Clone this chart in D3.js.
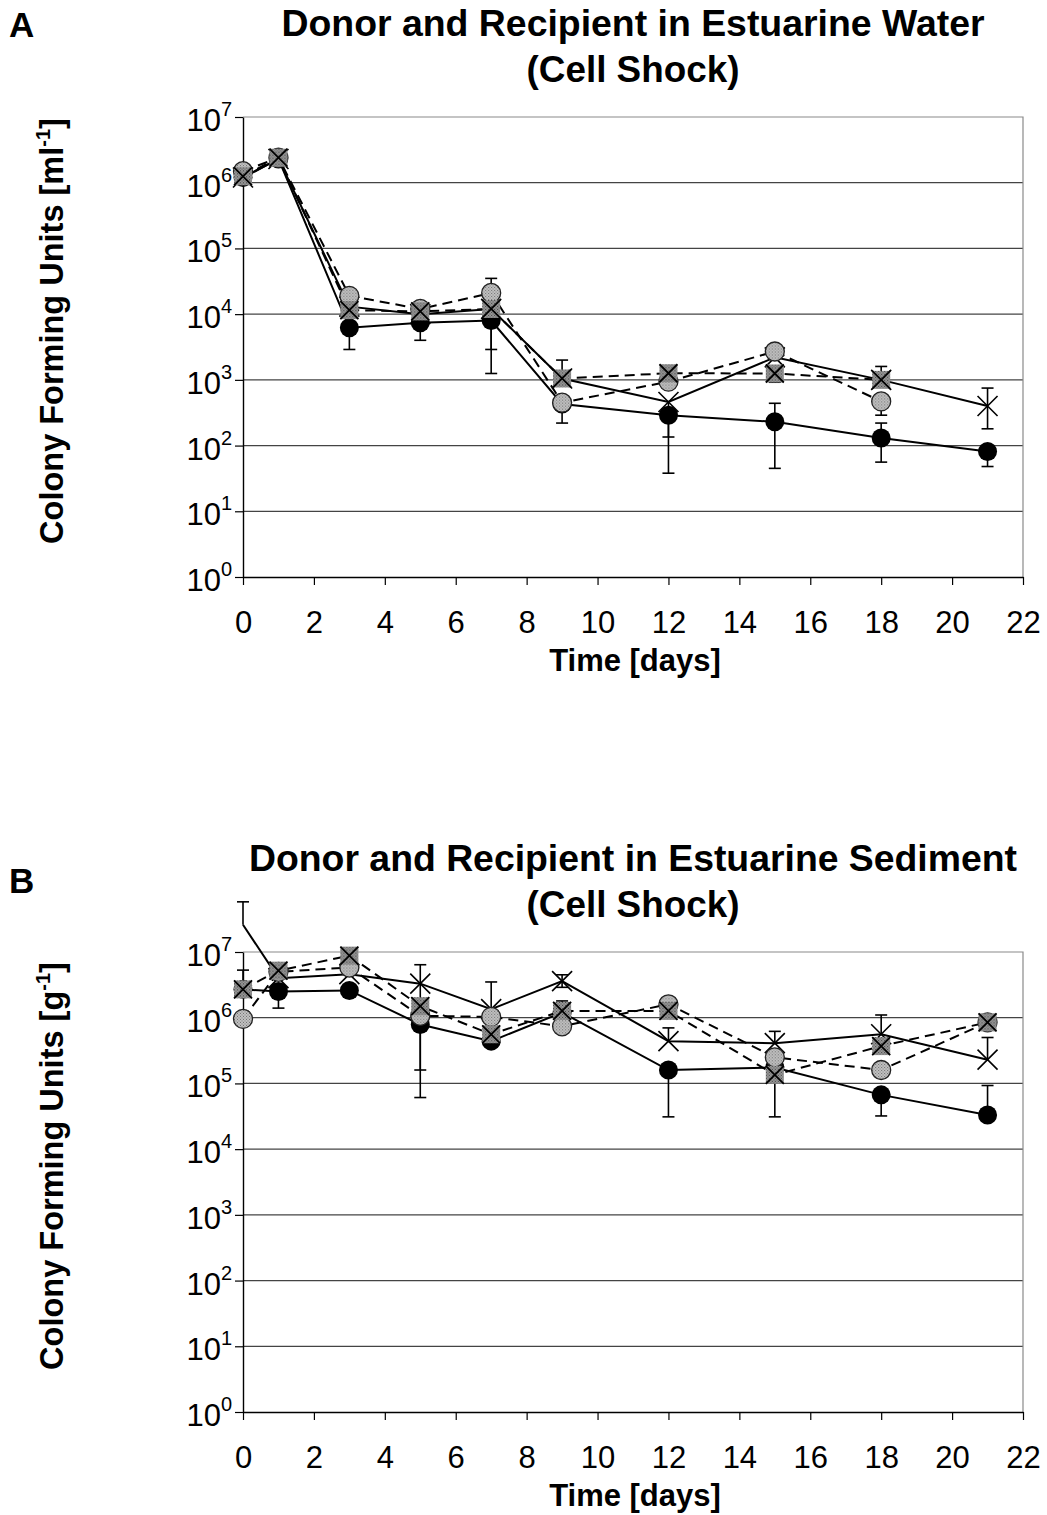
<!DOCTYPE html>
<html>
<head>
<meta charset="utf-8">
<script src="https://cdn.jsdelivr.net/npm/d3@7"></script>
<style>
  body { margin: 0; background: #fff; }
  text { font-family: "Liberation Sans", Arial, sans-serif; fill: #000; }
</style>
</head>
<body>
<script>
'use strict';

// sampling days
var days = [0, 1, 3, 5, 7, 9, 12, 15, 18, 21];
var xTicks = [0, 2, 4, 6, 8, 10, 12, 14, 16, 18, 20, 22];
var decades = [0, 1, 2, 3, 4, 5, 6, 7];

// A: estuarine water (CFU per ml)
var waterFilled   = [1.2e6, 2.3e6, 6.2e3, 7.4e3, 8.0e3, 4.3e2, 2.9e2, 2.3e2, 1.3e2, 81];
var waterFilledHi = [null, null, null, null, null, null, null, 4.4e2, 2.2e2, null];
var waterFilledLo = [null, null, 2.9e3, 4.0e3, 1.25e3, null, 38, 45, 56, 48];

var waterCross    = [1.2e6, 2.3e6, 1.3e4, 1.0e4, 1.2e4, 1.05e3, 4.6e2, 2.2e3, 1.0e3, 4.0e2];
var waterCrossHi  = [null, null, null, null, null, null, null, null, null, 7.5e2];
var waterCrossLo  = [null, null, null, null, 2.9e3, null, 1.35e2, null, null, 1.8e2];

var waterCircle   = [1.5e6, 2.4e6, 1.9e4, 1.2e4, 2.1e4, 4.5e2, 9.4e2, 2.7e3, 4.7e2, null];
var waterCircleHi = [null, null, null, null, 3.5e4, null, null, null, null, null];
var waterCircleLo = [null, null, null, null, null, 2.2e2, null, null, 2.9e2, null];

var waterSquare   = [1.25e6, 2.4e6, 1.15e4, 1.1e4, 1.2e4, 1.05e3, 1.26e3, 1.25e3, 1.0e3, null];
var waterSquareHi = [null, null, null, null, null, 2.0e3, null, null, 1.6e3, null];
var waterSquareLo = [null, null, null, null, null, null, null, 9.2e2, null, null];

// B: estuarine sediment (CFU per g)
var sedFilled     = [2.7e6, 2.5e6, 2.6e6, 7.9e5, 4.4e5, 1.2e6, 1.6e5, 1.75e5, 6.7e4, 3.3e4];
var sedFilledHi   = [5.3e6, null, null, null, null, 1.8e6, null, null, null, 9.3e4];
var sedFilledLo   = [null, 1.4e6, null, 6.1e4, null, null, 3.1e4, 3.1e4, 3.2e4, null];

var sedCross      = [2.6e7, 4.0e6, 4.6e6, 3.3e6, 1.35e6, 3.6e6, 4.4e5, 4.1e5, 5.6e5, 2.3e5];
var sedCrossHi    = [5.8e7, null, null, 6.4e6, 3.5e6, 4.5e6, 7.0e5, 6.2e5, 1.1e6, 5.0e5];
var sedCrossLo    = [null, null, null, 1.6e5, null, 2.9e6, null, null, null, null];

var sedCircle     = [9.6e5, 5.0e6, 5.8e6, 1.07e6, 1.03e6, 7.4e5, 1.6e6, 2.5e5, 1.6e5, 8.5e5];
var sedSquare     = [2.7e6, 5.2e6, 8.8e6, 1.5e6, 5.6e5, 1.27e6, 1.27e6, 1.35e5, 3.7e5, 8.5e5];

var width = 1047, height = 1515;
var svg = d3.select('body').append('svg')
    .attr('width', width)
    .attr('height', height);

// halftone-like fills
var defs = svg.append('defs');
function stipple(id, bg, dot) {
  var p = defs.append('pattern')
      .attr('id', id)
      .attr('width', 3).attr('height', 3)
      .attr('patternUnits', 'userSpaceOnUse');
  p.append('rect').attr('width', 3).attr('height', 3).attr('fill', bg);
  p.append('rect').attr('width', 1).attr('height', 1).attr('fill', dot);
  p.append('rect').attr('x', 1.5).attr('y', 1.5).attr('width', 1).attr('height', 1).attr('fill', dot);
}
stipple('lightDots', '#c4c4c4', '#6a6a6a');
stipple('darkDots', '#9a9a9a', '#3c3c3c');

var x = d3.scaleLinear().domain([0, 22]).range([243, 1023]);

function makeSeries(values, hi, lo, marker, dashed) {
  return {
    points: days.map(function (d, i) {
      return { day: d, v: values[i], hi: hi ? hi[i] : null, lo: lo ? lo[i] : null };
    }).filter(function (p) { return p.v != null; }),
    marker: marker,
    dashed: dashed
  };
}

function drawPanel(panel) {
  var top = panel.top, bottom = panel.bottom;
  var y = d3.scaleLog().domain([1, 1e7]).range([bottom, top]);
  var g = svg.append('g');

  // grid lines
  g.selectAll('line.grid')
    .data(decades.slice(1, 7))
    .enter().append('line')
      .attr('x1', x(0)).attr('x2', x(22))
      .attr('y1', function (d) { return y(Math.pow(10, d)); })
      .attr('y2', function (d) { return y(Math.pow(10, d)); })
      .attr('stroke', '#444')
      .attr('stroke-width', 1.2);

  // plot frame top/right
  g.append('path')
    .attr('d', 'M' + x(0) + ',' + top + 'H' + x(22) + 'V' + bottom)
    .attr('fill', 'none')
    .attr('stroke', '#8a8a8a')
    .attr('stroke-width', 1.2);

  // x axis
  var xAxis = g.append('g')
    .attr('transform', 'translate(0,' + bottom + ')')
    .call(d3.axisBottom(x).tickValues(xTicks).tickSize(8).tickSizeOuter(0).tickPadding(26));
  xAxis.select('.domain').attr('stroke', '#000').attr('stroke-width', 1.4);
  xAxis.selectAll('line').attr('stroke', '#000').attr('stroke-width', 1.2);
  xAxis.selectAll('text')
    .attr('font-size', 31)
    .attr('font-family', '"Liberation Sans", Arial, sans-serif')
    .attr('fill', '#000');

  // y axis
  var yAxis = g.append('g')
    .attr('transform', 'translate(' + x(0) + ',0)')
    .call(d3.axisLeft(y).tickValues(decades.map(function (d) { return Math.pow(10, d); }))
      .tickSize(8).tickSizeOuter(0).tickFormat(''));
  yAxis.select('.domain').attr('stroke', '#000').attr('stroke-width', 1.4);
  yAxis.selectAll('line').attr('stroke', '#000').attr('stroke-width', 1.2);

  var yLab = g.selectAll('text.ylab')
    .data(decades)
    .enter().append('text')
      .attr('class', 'ylab')
      .attr('x', x(0) - 11)
      .attr('y', function (d) { return y(Math.pow(10, d)) + 14; })
      .attr('text-anchor', 'end')
      .attr('font-size', 31);
  yLab.append('tspan').text('10');
  yLab.append('tspan')
    .attr('dy', -15)
    .attr('font-size', 20)
    .text(function (d) { return d; });

  // panel letter + title
  svg.append('text')
    .attr('x', 9).attr('y', panel.letterY)
    .attr('font-size', 35).attr('font-weight', 'bold')
    .text(panel.letter);
  svg.append('text')
    .attr('x', 633).attr('y', panel.titleY)
    .attr('text-anchor', 'middle')
    .attr('font-size', 36).attr('font-weight', 'bold')
    .attr('textLength', panel.titleWidth)
    .attr('lengthAdjust', 'spacingAndGlyphs')
    .text(panel.title);
  svg.append('text')
    .attr('x', 633).attr('y', panel.titleY + 46)
    .attr('text-anchor', 'middle')
    .attr('font-size', 36).attr('font-weight', 'bold')
    .attr('textLength', 213)
    .attr('lengthAdjust', 'spacingAndGlyphs')
    .text('(Cell Shock)');

  // axis titles
  var yt = svg.append('text')
    .attr('transform', 'translate(63,' + ((top + bottom) / 2 - 16) + ') rotate(-90)')
    .attr('text-anchor', 'middle')
    .attr('font-size', 32.5).attr('font-weight', 'bold');
  yt.append('tspan').text('Colony Forming Units [' + panel.unit);
  yt.append('tspan').attr('dy', -13).attr('font-size', 20).text('-1');
  yt.append('tspan').attr('dy', 13).text(']');

  svg.append('text')
    .attr('x', 635).attr('y', bottom + 94)
    .attr('text-anchor', 'middle')
    .attr('font-size', 31).attr('font-weight', 'bold')
    .text('Time [days]');

  // lines first
  var line = d3.line()
    .x(function (p) { return x(p.day); })
    .y(function (p) { return y(p.v); });

  panel.series.forEach(function (s) {
    g.append('path')
      .datum(s.points)
      .attr('d', line)
      .attr('fill', 'none')
      .attr('stroke', '#000')
      .attr('stroke-width', 2)
      .attr('stroke-dasharray', s.dashed ? '10,6' : null);
  });

  // error bars and markers, series by series
  panel.series.forEach(function (s) {
    var eg = g.append('g');
    s.points.forEach(function (p) {
      ['hi', 'lo'].forEach(function (k) {
        if (p[k] == null) return;
        var cx = x(p.day);
        eg.append('line')
          .attr('x1', cx).attr('x2', cx)
          .attr('y1', y(p.v)).attr('y2', y(p[k]))
          .attr('stroke', '#000').attr('stroke-width', 1.6);
        eg.append('line')
          .attr('x1', cx - 6).attr('x2', cx + 6)
          .attr('y1', y(p[k])).attr('y2', y(p[k]))
          .attr('stroke', '#000').attr('stroke-width', 1.6);
      });
    });

    var pts = s.points.filter(function (p) { return p.v <= 1e7; });
    var mg = g.append('g');
    var m = mg.selectAll('g').data(pts).enter().append('g')
      .attr('transform', function (p) { return 'translate(' + x(p.day) + ',' + y(p.v) + ')'; });

    if (s.marker === 'filled') {
      m.append('circle').attr('r', 9.5).attr('fill', '#000');
    } else if (s.marker === 'circle') {
      m.append('circle').attr('r', 9.5)
        .attr('fill', 'url(#lightDots)')
        .attr('stroke', '#222').attr('stroke-width', 1.3);
    } else if (s.marker === 'square') {
      m.append('rect').attr('x', -9).attr('y', -9).attr('width', 18).attr('height', 18)
        .attr('fill', 'url(#darkDots)');
      m.append('path').attr('d', 'M-9,-9L9,9M-9,9L9,-9')
        .attr('stroke', '#000').attr('stroke-width', 1.8);
    } else if (s.marker === 'cross') {
      m.append('path').attr('d', 'M-10,-10L10,10M-10,10L10,-10')
        .attr('stroke', '#000').attr('stroke-width', 1.6);
    }
  });
}

drawPanel({
  top: 117, bottom: 577,
  letter: 'A', letterY: 37,
  title: 'Donor and Recipient in Estuarine Water', titleY: 36, titleWidth: 703,
  unit: 'ml',
  series: [
    makeSeries(waterFilled, waterFilledHi, waterFilledLo, 'filled', false),
    makeSeries(waterCross, waterCrossHi, waterCrossLo, 'cross', false),
    makeSeries(waterCircle, waterCircleHi, waterCircleLo, 'circle', true),
    makeSeries(waterSquare, waterSquareHi, waterSquareLo, 'square', true)
  ]
});

drawPanel({
  top: 952, bottom: 1412,
  letter: 'B', letterY: 893,
  title: 'Donor and Recipient in Estuarine Sediment', titleY: 871, titleWidth: 768,
  unit: 'g',
  series: [
    makeSeries(sedFilled, sedFilledHi, sedFilledLo, 'filled', false),
    makeSeries(sedCross, sedCrossHi, sedCrossLo, 'cross', false),
    makeSeries(sedCircle, null, null, 'circle', true),
    makeSeries(sedSquare, null, null, 'square', true)
  ]
});
</script>
</body>
</html>
